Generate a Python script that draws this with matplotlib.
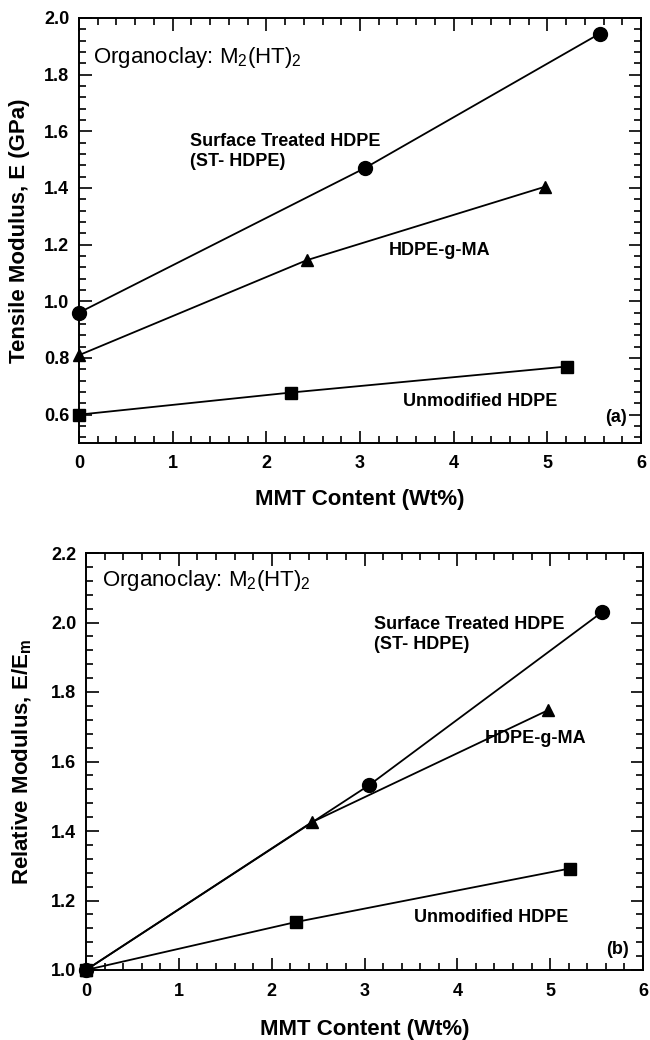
import matplotlib
matplotlib.use('Agg')
import matplotlib.pyplot as plt
from matplotlib.ticker import MultipleLocator, FormatStrFormatter

# Datos (a) modulo en traccion y (b) modulo relativo
st_x = [0, 3.05, 5.56]
st_E = [0.96, 1.47, 1.945]
st_rel = [1.0, 1.532, 2.03]

ma_x = [0, 2.43, 4.98]
ma_E = [0.81, 1.145, 1.405]
ma_rel = [1.0, 1.425, 1.748]

un_x = [0, 2.26, 5.21]
un_E = [0.60, 0.678, 0.77]
un_rel = [1.0, 1.138, 1.292]

plt.rcParams['font.family'] = ['Liberation Sans', 'DejaVu Sans']
plt.rcParams['mathtext.fontset'] = 'custom'
plt.rcParams['mathtext.rm'] = 'Liberation Sans'
plt.rcParams['mathtext.bf'] = 'Liberation Sans:bold'

fig = plt.figure(figsize=(6.5, 10.4), dpi=100)
ax1 = fig.add_axes([79/650, 1-443/1040, 562/650, 425/1040])
ax2 = fig.add_axes([86/650, 1-970/1040, 557/650, 417/1040])


def estilo(ax, ymin, ymax):
    ax.set_xlim(0, 6)
    ax.set_ylim(ymin, ymax)
    ax.xaxis.set_major_locator(MultipleLocator(1))
    ax.xaxis.set_minor_locator(MultipleLocator(0.2))
    ax.yaxis.set_major_locator(MultipleLocator(0.2))
    ax.yaxis.set_minor_locator(MultipleLocator(0.04))
    ax.yaxis.set_major_formatter(FormatStrFormatter('%.1f'))
    ax.tick_params(which='both', direction='in', top=True, right=True, width=1.2)
    ax.tick_params(which='major', length=9, pad=7, labelsize=13)
    ax.tick_params(axis='x', which='major', pad=9)
    ax.tick_params(which='minor', length=5)
    for lbl in ax.get_xticklabels() + ax.get_yticklabels():
        lbl.set_fontweight('bold')
    for s in ax.spines.values():
        s.set_linewidth(1.4)


def series(ax, y_st, y_ma, y_un):
    ax.plot(st_x, y_st, color='black', lw=1.3, marker='o', ms=10, clip_on=False, zorder=3)
    ax.plot(ma_x, y_ma, color='black', lw=1.3, marker='^', ms=9, clip_on=False, zorder=3)
    ax.plot(un_x, y_un, color='black', lw=1.3, marker='s', ms=8.5, clip_on=False, zorder=3)


# (a)
series(ax1, st_E, ma_E, un_E)
estilo(ax1, 0.5, 2.0)
ax1.set_xlabel('MMT Content (Wt%)', fontsize=16, fontweight='bold', labelpad=12)
ax1.set_ylabel('Tensile Modulus, E (GPa)', fontsize=16, fontweight='bold', labelpad=10)
ax1.text(0.15, 1.86, 'Organoclay: M$_\\mathrm{2}$(HT)$_\\mathrm{2}$', fontsize=16, va='center')
ax1.text(1.18, 1.528, 'Surface Treated HDPE\n(ST- HDPE)', fontsize=13, fontweight='bold',
         va='center', linespacing=1.25)
ax1.text(3.31, 1.18, 'HDPE-g-MA', fontsize=13, fontweight='bold', va='center')
ax1.text(3.46, 0.645, 'Unmodified HDPE', fontsize=13, fontweight='bold', va='center')
ax1.text(5.85, 0.59, '(a)', fontsize=13, fontweight='bold', va='center', ha='right')

# (b)
series(ax2, st_rel, ma_rel, un_rel)
estilo(ax2, 1.0, 2.2)
ax2.set_xlabel('MMT Content (Wt%)', fontsize=16, fontweight='bold', labelpad=14)
ax2.set_ylabel('Relative Modulus, E/E$_\\mathbf{m}$', fontsize=16, fontweight='bold', labelpad=12)
ax2.text(0.17, 2.122, 'Organoclay: M$_\\mathrm{2}$(HT)$_\\mathrm{2}$', fontsize=16, va='center')
ax2.text(3.1, 1.965, 'Surface Treated HDPE\n(ST- HDPE)', fontsize=13, fontweight='bold',
         va='center', linespacing=1.25)
ax2.text(4.29, 1.665, 'HDPE-g-MA', fontsize=13, fontweight='bold', va='center')
ax2.text(3.53, 1.15, 'Unmodified HDPE', fontsize=13, fontweight='bold', va='center')
ax2.text(5.85, 1.058, '(b)', fontsize=13, fontweight='bold', va='center', ha='right')

plt.savefig('out.png', dpi=100)
